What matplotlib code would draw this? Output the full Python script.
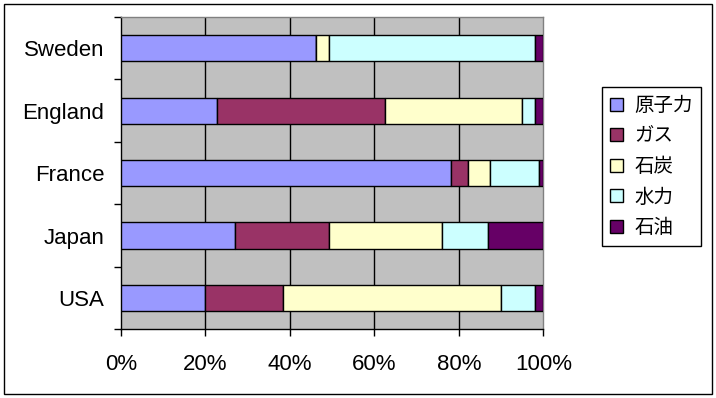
import matplotlib
matplotlib.use('Agg')
import matplotlib.pyplot as plt
import numpy as np
from matplotlib.patches import Rectangle
from matplotlib.ticker import FixedLocator, PercentFormatter

# shares of electricity by source, percent
countries = ['USA', 'Japan', 'France', 'England', 'Sweden']
sources = ['原子力', 'ガス', '石炭', '水力', '石油']
nuclear = [20.0, 27.0, 78.2, 22.8, 46.1]
gas = [18.4, 22.3, 4.0, 39.8, 0.0]
coal = [51.6, 26.8, 5.2, 32.4, 3.2]
hydro = [8.1, 10.9, 11.6, 3.1, 48.8]
oil = [1.9, 13.0, 1.0, 1.9, 1.9]
colors = ['#9999FF', '#993366', '#FFFFCC', '#CCFFFF', '#660066']

W, H = 716, 398
fig = plt.figure(figsize=(W / 100, H / 100), dpi=100)
ax = fig.add_axes([121 / W, 1 - 329.3 / H, (543.3 - 121) / W, (329.3 - 17) / H])
ax.set_facecolor('#C0C0C0')

y = np.arange(len(countries))
left = np.zeros(len(countries))
for name, vals, c in zip(sources, [nuclear, gas, coal, hydro, oil], colors):
    ax.barh(y, vals, left=left, height=0.42, color=c, edgecolor='black',
            linewidth=1, label=name, zorder=3)
    left += np.array(vals)

ax.set_xlim(0, 100)
ax.set_ylim(-0.5, len(countries) - 0.5)

# vertical gridlines
for gx in [20, 40, 60, 80]:
    ax.axvline(gx, color='black', linewidth=1, zorder=1)

ax.set_xticks([0, 20, 40, 60, 80, 100])
ax.xaxis.set_major_formatter(PercentFormatter(decimals=0))
ax.set_yticks(y)
ax.set_yticklabels(countries)
ax.yaxis.set_minor_locator(FixedLocator(np.arange(-0.5, len(countries), 1)))
ax.tick_params(axis='y', which='major', length=0, pad=12)
ax.tick_params(axis='y', which='minor', length=5, width=1, direction='out', color='black')
ax.tick_params(axis='x', which='major', length=5, width=1, direction='out', pad=13)
for lab in ax.get_xticklabels() + ax.get_yticklabels():
    lab.set_fontfamily('Liberation Sans')
    lab.set_fontsize(16)

for s in ['left', 'bottom']:
    ax.spines[s].set_color('black')
    ax.spines[s].set_linewidth(1)
for s in ['top', 'right']:
    ax.spines[s].set_color('#808080')
    ax.spines[s].set_linewidth(1)

leg = fig.legend(loc='upper left', bbox_to_anchor=(602 / W, 1 - 87 / H),
                 borderaxespad=0, frameon=True, fancybox=False, edgecolor='black',
                 framealpha=1, handlelength=0.65, handleheight=0.65, handletextpad=0.59,
                 labelspacing=0.49, borderpad=0.42,
                 prop={'family': ['Noto Sans CJK JP', 'DejaVu Sans'], 'size': 14})
leg.get_frame().set_linewidth(1)

# outer chart border
fig.patches.append(Rectangle((4 / W, 4 / H), 708 / W, 390 / H, transform=fig.transFigure,
                             fill=False, edgecolor='black', linewidth=1))

fig.savefig('out.png', dpi=100)
